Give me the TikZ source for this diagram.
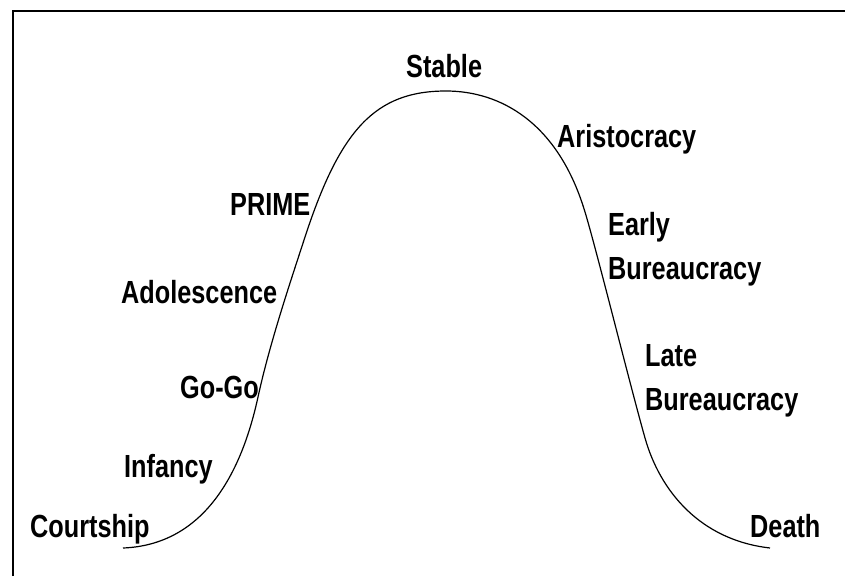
\documentclass[tikz,border=0pt]{standalone}
\usepackage{fontspec}
\setmainfont{Liberation Sans}[FakeStretch=0.79]
\usepackage{tikz}

\tikzset{
  stage/.style={anchor=base west, inner sep=0pt, font=\fontsize{32}{44}\selectfont\bfseries, align=left},
}

\begin{document}
\begin{tikzpicture}[x=1pt, y=-1pt]

\useasboundingbox (0,0) rectangle (845,576);

% Frame
\draw [line width=2pt] (12.5,576) -- (12.5,11) -- (845,11);

% Life cycle curve
\draw [line width=1.2pt] (123,548)
  .. controls (200,545) and (240,480) .. (258,397)
  .. controls (270,342) and (291,280) .. (305,237)
  .. controls (340,130) and (375,91) .. (446,91)
  .. controls (500,91) and (558,122) .. (585,212)
  .. controls (596,248) and (630,385) .. (645,438)
  .. controls (660,491) and (700,540) .. (770,548);

% Stages
\node [stage] (courtship) at (30,537) {Courtship};
\node [stage] (infancy) at (124,477) {Infancy};
\node [stage] (gogo) at (180,398) {Go-Go};
\node [stage] (adolescence) at (121,303) {Adolescence};
\node [stage] (prime) at (230,215) {PRIME};
\node [stage] (stable) at (406,77) {Stable};
\node [stage] (aristocracy) at (557,147) {Aristocracy};
\node [stage] (early) at (608,279) {Early\\Bureaucracy}; % base = last line
\node [stage] (late) at (645,410) {Late\\Bureaucracy};
\node [stage] (death) at (750,537) {Death};

\end{tikzpicture}
\end{document}
